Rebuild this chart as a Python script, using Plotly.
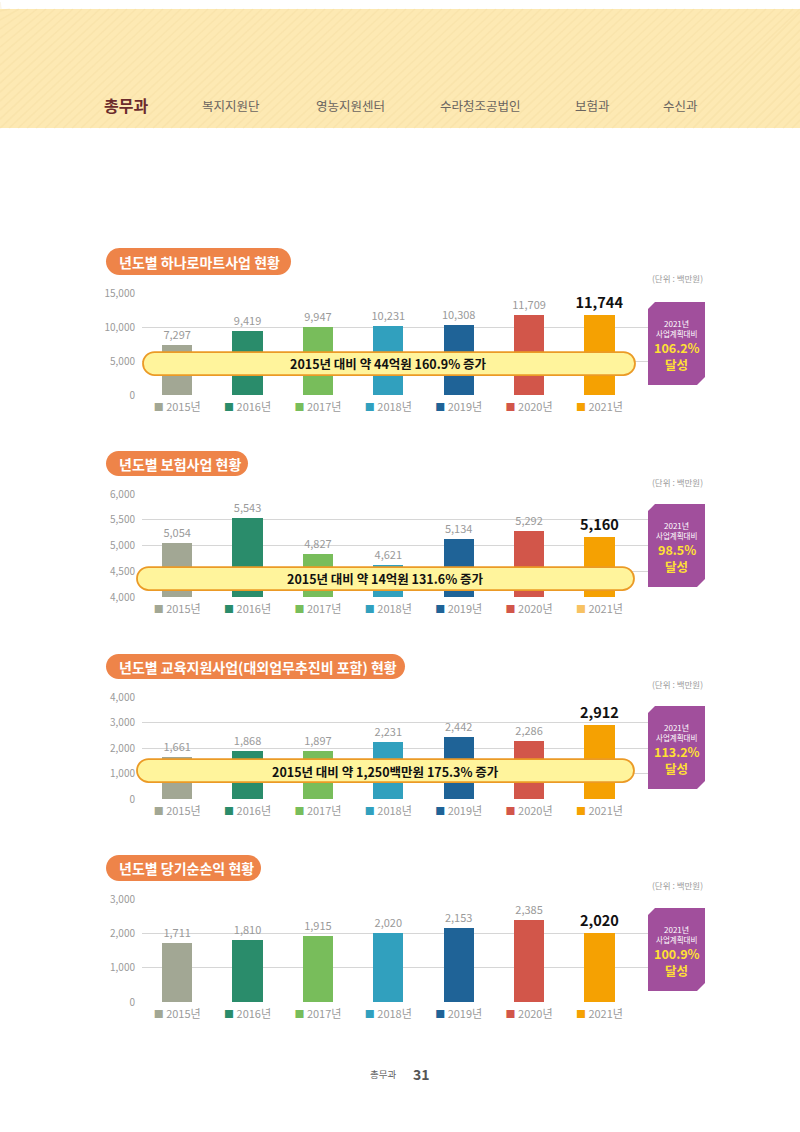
import plotly.graph_objects as go

W, H = 800, 1132

years = ["2015년", "2016년", "2017년", "2018년", "2019년", "2020년", "2021년"]
bar_colors = ["#A2A794", "#2A8C6B", "#78BD5B", "#31A0BE", "#1F6397", "#D2564A", "#F5A102"]

titles = [
    "년도별 하나로마트사업 현황",
    "년도별 보험사업 현황",
    "년도별 교육지원사업(대외업무추진비 포함) 현황",
    "년도별 당기순손익 현황",
]
sales_mart = [7297, 9419, 9947, 10231, 10308, 11709, 11744]
sales_insurance = [5054, 5543, 4827, 4621, 5134, 5292, 5160]
sales_education = [1661, 1868, 1897, 2231, 2442, 2286, 2912]
net_income = [1711, 1810, 1915, 2020, 2153, 2385, 2020]
series = [sales_mart, sales_insurance, sales_education, net_income]

y_ranges = [[0, 15000], [4000, 6000], [0, 4000], [0, 3000]]
y_ticks = [[0, 5000, 10000, 15000], [4000, 4500, 5000, 5500, 6000],
           [0, 1000, 2000, 3000, 4000], [0, 1000, 2000, 3000]]
banners = [
    "2015년 대비 약 44억원 160.9% 증가",
    "2015년 대비 약 14억원 131.6% 증가",
    "2015년 대비 약 1,250백만원 175.3% 증가",
    None,
]
plan_rates = ["106.2%", "98.5%", "113.2%", "100.9%"]
nav_items = ["총무과", "복지지원단", "영농지원센터", "수라청조공법인", "보험과", "수신과"]

# ---- layout geometry (target pixels in the photographed page) ----
plot_x0, plot_x1 = 142, 705
axis_px = [(292, 394), (493, 596), (696, 798), (898, 1001)]  # (top, bottom)
title_px = [(106, 247, 291, 274), (106, 450, 248, 475), (106, 653, 405, 678), (106, 854, 261, 880)]
unit_y = [277, 481, 683, 884]
banner_px = [(143, 351, 635, 374), (137, 566, 634, 589), (137, 758, 634, 781)]
banner_text_xy = [(388, 362), (385, 577), (385, 770)]
badge_top = [301, 503, 705, 907]

FONT = "Noto Sans CJK KR"
# the page is photographed with a small vertical inset; map target pixels accordingly
OFF, SC = 7.9, 0.9859


def X(p):
    return p / W


def Y(p):
    return 1 - ((p - OFF) / SC) / H


def pill_path(x0, y0, x1, y1):
    r = (y1 - y0) / 2
    cy = (y0 + y1) / 2
    k = 0.5523 * r
    pts = [
        ("M", [(x0 + r, y0)]),
        ("L", [(x1 - r, y0)]),
        ("C", [(x1 - r + k, y0), (x1, cy - k), (x1, cy)]),
        ("C", [(x1, cy + k), (x1 - r + k, y1), (x1 - r, y1)]),
        ("L", [(x0 + r, y1)]),
        ("C", [(x0 + r - k, y1), (x0, cy + k), (x0, cy)]),
        ("C", [(x0, cy - k), (x0 + r - k, y0), (x0 + r, y0)]),
    ]
    s = ""
    for cmd, ps in pts:
        s += cmd + " ".join(f"{X(a):.5f},{Y(b):.5f}" for a, b in ps) + " "
    return s + "Z"


def poly_path(points):
    s = "M" + " L".join(f"{X(a):.5f},{Y(b):.5f}" for a, b in points)
    return s + " Z"


fig = go.Figure()
shapes = []
annotations = []

# header band
shapes.append(dict(type="rect", xref="paper", yref="paper", x0=0, x1=1, y0=Y(127), y1=1,
                   fillcolor="#FDE9B3", line=dict(width=0), layer="below"))
for i in range(-14, 89):
    xs = i * 9
    xa_, xb_ = max(xs, 0), min(xs + 127, 800)
    shapes.append(dict(type="path", xref="paper", yref="paper",
                       path=poly_path([(xa_, 127 - (xa_ - xs)), (xb_, max(127 - (xb_ - xs), OFF))]),
                       line=dict(color="rgba(235,205,140,0.18)", width=1.5), layer="below"))

nav_x = [126, 231, 350, 480, 592, 680]
for i, (name, nx) in enumerate(zip(nav_items, nav_x)):
    if i == 0:
        txt, fnt = f"<b>{name}</b>", dict(family=FONT, size=16, color="#6B2B2D")
    else:
        txt, fnt = name, dict(family=FONT, size=12.5, color="#6A6460")
    annotations.append(dict(x=X(nx), y=Y(104), xref="paper", yref="paper", text=txt,
                            showarrow=False, font=fnt, xanchor="center", yanchor="middle"))

for ci in range(4):
    vals = series[ci]
    top, bot = axis_px[ci]
    xa = "x" if ci == 0 else f"x{ci + 1}"
    ya = "y" if ci == 0 else f"y{ci + 1}"
    texts = [f"{v:,}" for v in vals]
    texts[-1] = f"<b>{texts[-1]}</b>"
    fig.add_trace(go.Bar(
        x=list(range(len(vals))), y=vals, xaxis=xa, yaxis=ya,
        marker=dict(color=bar_colors, line=dict(width=0)), width=0.43,
        text=texts, textposition="outside", cliponaxis=False, constraintext="none",
        textfont=dict(family=FONT, size=[11] * 6 + [14.5], color=["#9A9A9A"] * 6 + ["#111111"]),
        hoverinfo="skip", showlegend=False,
    ))

    legend_colors = list(bar_colors)
    if ci == 1:
        legend_colors[-1] = "#F7C263"
    ticktext = [f"<span style='color:{c};font-size:10px'>■</span> {yr}"
                for c, yr in zip(legend_colors, years)]

    xkey = "xaxis" if ci == 0 else f"xaxis{ci + 1}"
    ykey = "yaxis" if ci == 0 else f"yaxis{ci + 1}"
    fig.update_layout(**{
        xkey: dict(domain=[X(plot_x0), X(plot_x1)], anchor=ya, range=[-0.5, 7.5],
                   tickvals=list(range(7)), ticktext=ticktext, showgrid=False,
                   zeroline=False, showline=False, ticks="", ticklabelstandoff=4,
                   tickfont=dict(family=FONT, size=11, color="#9A9A9A"), fixedrange=True),
        ykey: dict(domain=[Y(bot), Y(top)], anchor=xa, range=y_ranges[ci],
                   tickvals=y_ticks[ci], tickformat=",", showgrid=True,
                   gridcolor="#D6D6D6", gridwidth=1, zeroline=False, showline=False,
                   ticks="", ticklabelstandoff=6,
                   tickfont=dict(family=FONT, size=10, color="#9A9A9A"), fixedrange=True),
    })

    # title pill
    tx0, ty0, tx1, ty1 = title_px[ci]
    shapes.append(dict(type="path", xref="paper", yref="paper", path=pill_path(tx0, ty0, tx1, ty1),
                       fillcolor="#EE8449", line=dict(width=0), layer="above"))
    annotations.append(dict(x=X(tx0 + 11), y=Y((ty0 + ty1) / 2), xref="paper", yref="paper",
                            text=f"<b>{titles[ci]}</b>", showarrow=False, xanchor="left",
                            yanchor="middle", font=dict(family=FONT, size=14, color="white")))
    # unit
    annotations.append(dict(x=X(705), y=Y(unit_y[ci]), xref="paper", yref="paper",
                            text="(단위 : 백만원)", showarrow=False, xanchor="right",
                            yanchor="middle", font=dict(family=FONT, size=8.5, color="#9A9A9A")))
    # banner
    if banners[ci]:
        bx0, by0, bx1, by1 = banner_px[ci]
        shapes.append(dict(type="path", xref="paper", yref="paper", path=pill_path(bx0, by0, bx1, by1),
                           fillcolor="#FFF49C", line=dict(color="#EB9A26", width=1.8), layer="above"))
        btx, bty = banner_text_xy[ci]
        annotations.append(dict(x=X(btx), y=Y(bty), xref="paper", yref="paper",
                                text=f"<b>{banners[ci]}</b>", showarrow=False, xanchor="center",
                                yanchor="middle", font=dict(family=FONT, size=12.5, color="#111111")))
    # badge
    t = badge_top[ci]
    b = t + 83
    shapes.append(dict(type="path", xref="paper", yref="paper",
                       path=poly_path([(655, t), (705, t), (705, b - 8), (697, b), (648, b), (648, t + 7)]),
                       fillcolor="#A14F9C", line=dict(width=0), layer="above"))
    annotations += [
        dict(x=X(676.5), y=Y(t + 21), xref="paper", yref="paper", text="2021년", showarrow=False,
             xanchor="center", yanchor="middle", font=dict(family=FONT, size=8, color="white")),
        dict(x=X(676.5), y=Y(t + 31), xref="paper", yref="paper", text="사업계획대비", showarrow=False,
             xanchor="center", yanchor="middle", font=dict(family=FONT, size=7.5, color="white")),
        dict(x=X(676.5), y=Y(t + 45), xref="paper", yref="paper", text=f"<b>{plan_rates[ci]}</b>",
             showarrow=False, xanchor="center", yanchor="middle",
             font=dict(family=FONT, size=12.5, color="#FFE033")),
        dict(x=X(676.5), y=Y(t + 62), xref="paper", yref="paper", text="<b>달성</b>", showarrow=False,
             xanchor="center", yanchor="middle", font=dict(family=FONT, size=12.5, color="#FFE033")),
    ]

# footer
annotations += [
    dict(x=X(398), y=Y(1073), xref="paper", yref="paper", text="총무과", showarrow=False,
         xanchor="right", yanchor="middle", font=dict(family=FONT, size=9.5, color="#666666")),
    dict(x=X(411), y=Y(1073), xref="paper", yref="paper", text="<b>31</b>", showarrow=False,
         xanchor="left", yanchor="middle", font=dict(family=FONT, size=14, color="#555555")),
]

fig.update_layout(width=W, height=H, margin=dict(l=0, r=0, t=0, b=0), autosize=False,
                  paper_bgcolor="white", plot_bgcolor="rgba(0,0,0,0)", showlegend=False,
                  bargap=0, shapes=shapes, annotations=annotations, hovermode=False,
                  font=dict(family=FONT))
fig.write_html("out.html", config={"displayModeBar": False, "staticPlot": True},
               post_script="document.body.style.background='linear-gradient(#FDE9B3 0, #FDE9B3 50%, #ffffff 50%)';")
